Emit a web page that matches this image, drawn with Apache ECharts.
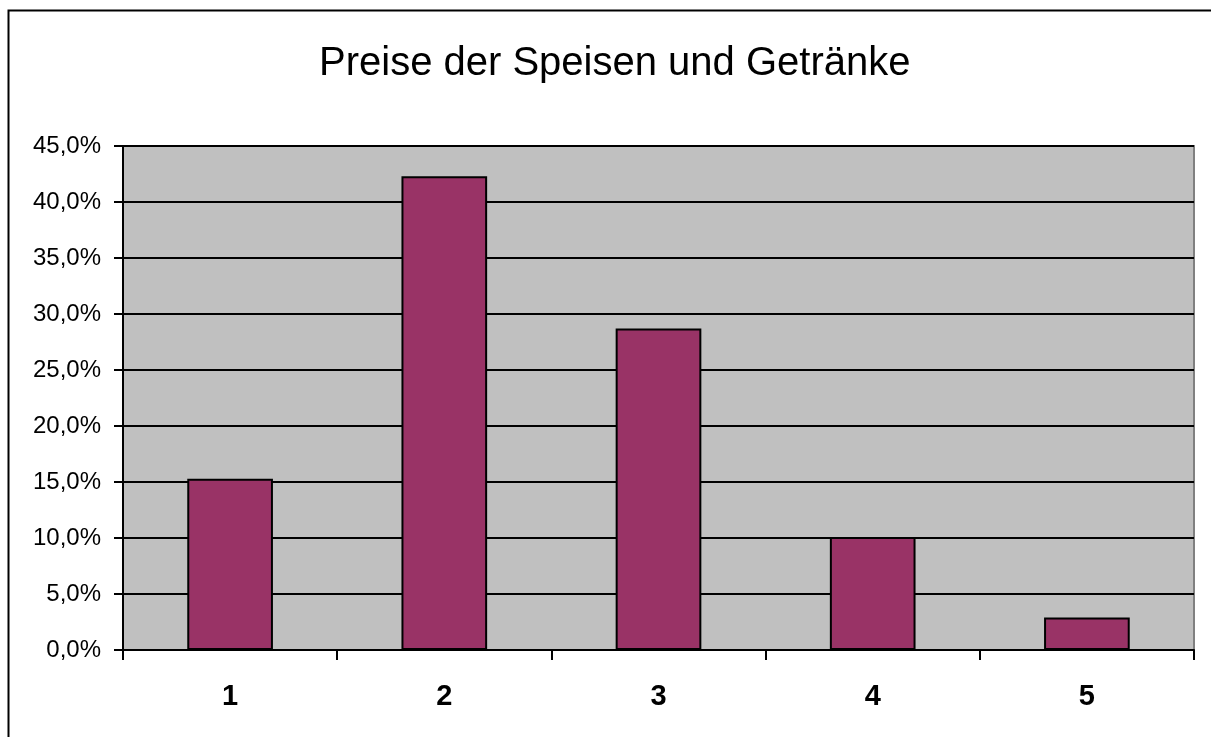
<!DOCTYPE html>
<html>
<head>
<meta charset="utf-8">
<title>Preise der Speisen und Getränke</title>
<script src="https://cdn.jsdelivr.net/npm/echarts@6/dist/echarts.min.js"></script>
<style>
    html, body { margin: 0; padding: 0; background: #fff; }
    #chart { width: 1211px; height: 737px; }
</style>
</head>
<body>
<div id="chart"></div>
<script>
    // Werte (Prozent)
    var categories = ['1', '2', '3', '4', '5'];
    var shares = [15.3, 42.3, 28.7, 10.1, 2.9];
    var titleText = 'Preise der Speisen und Getränke';

    var chart = echarts.init(document.getElementById('chart'));

    var option = {
        backgroundColor: '#fff',
        animation: false,
        title: {
            text: titleText,
            left: 314,
            top: 39,
            textStyle: {
                fontFamily: 'Liberation Sans, Arial',
                fontSize: 40,
                fontWeight: 'normal',
                color: '#000'
            }
        },
        // äußerer Rahmen (rechts und unten außerhalb des Bildes)
        graphic: [{
            type: 'rect',
            shape: { x: 8.5, y: 10.5, width: 1400, height: 900 },
            style: { fill: null, stroke: '#000', lineWidth: 2 },
            silent: true,
            z: 10
        }],
        grid: {
            left: 123,
            right: 17,
            top: 146,
            bottom: 87,
            show: true,
            backgroundColor: '#c0c0c0',
            borderColor: '#808080',
            borderWidth: 2
        },
        xAxis: {
            type: 'category',
            data: categories,
            axisLine: { lineStyle: { color: '#000', width: 2 } },
            axisTick: { show: true, length: 10, lineStyle: { color: '#000', width: 2 } },
            axisLabel: {
                margin: 32,
                fontFamily: 'Liberation Sans, Arial',
                fontSize: 29,
                fontWeight: 'bold',
                color: '#000'
            }
        },
        yAxis: {
            type: 'value',
            min: 0,
            max: 45,
            interval: 5,
            axisLine: { show: true, lineStyle: { color: '#000', width: 2 } },
            axisTick: { show: true, length: 9, lineStyle: { color: '#000', width: 2 } },
            splitLine: { lineStyle: { color: '#000', width: 2 } },
            axisLabel: {
                margin: 22,
                fontFamily: 'Liberation Sans, Arial',
                fontSize: 24,
                color: '#000',
                formatter: function (v) {
                    return v.toFixed(1).replace('.', ',') + '%';
                }
            }
        },
        series: [{
            type: 'bar',
            data: shares,
            barWidth: '40%',
            itemStyle: {
                color: '#993366',
                borderColor: '#000',
                borderWidth: 2
            }
        }]
    };

    chart.setOption(option);
</script>
</body>
</html>
